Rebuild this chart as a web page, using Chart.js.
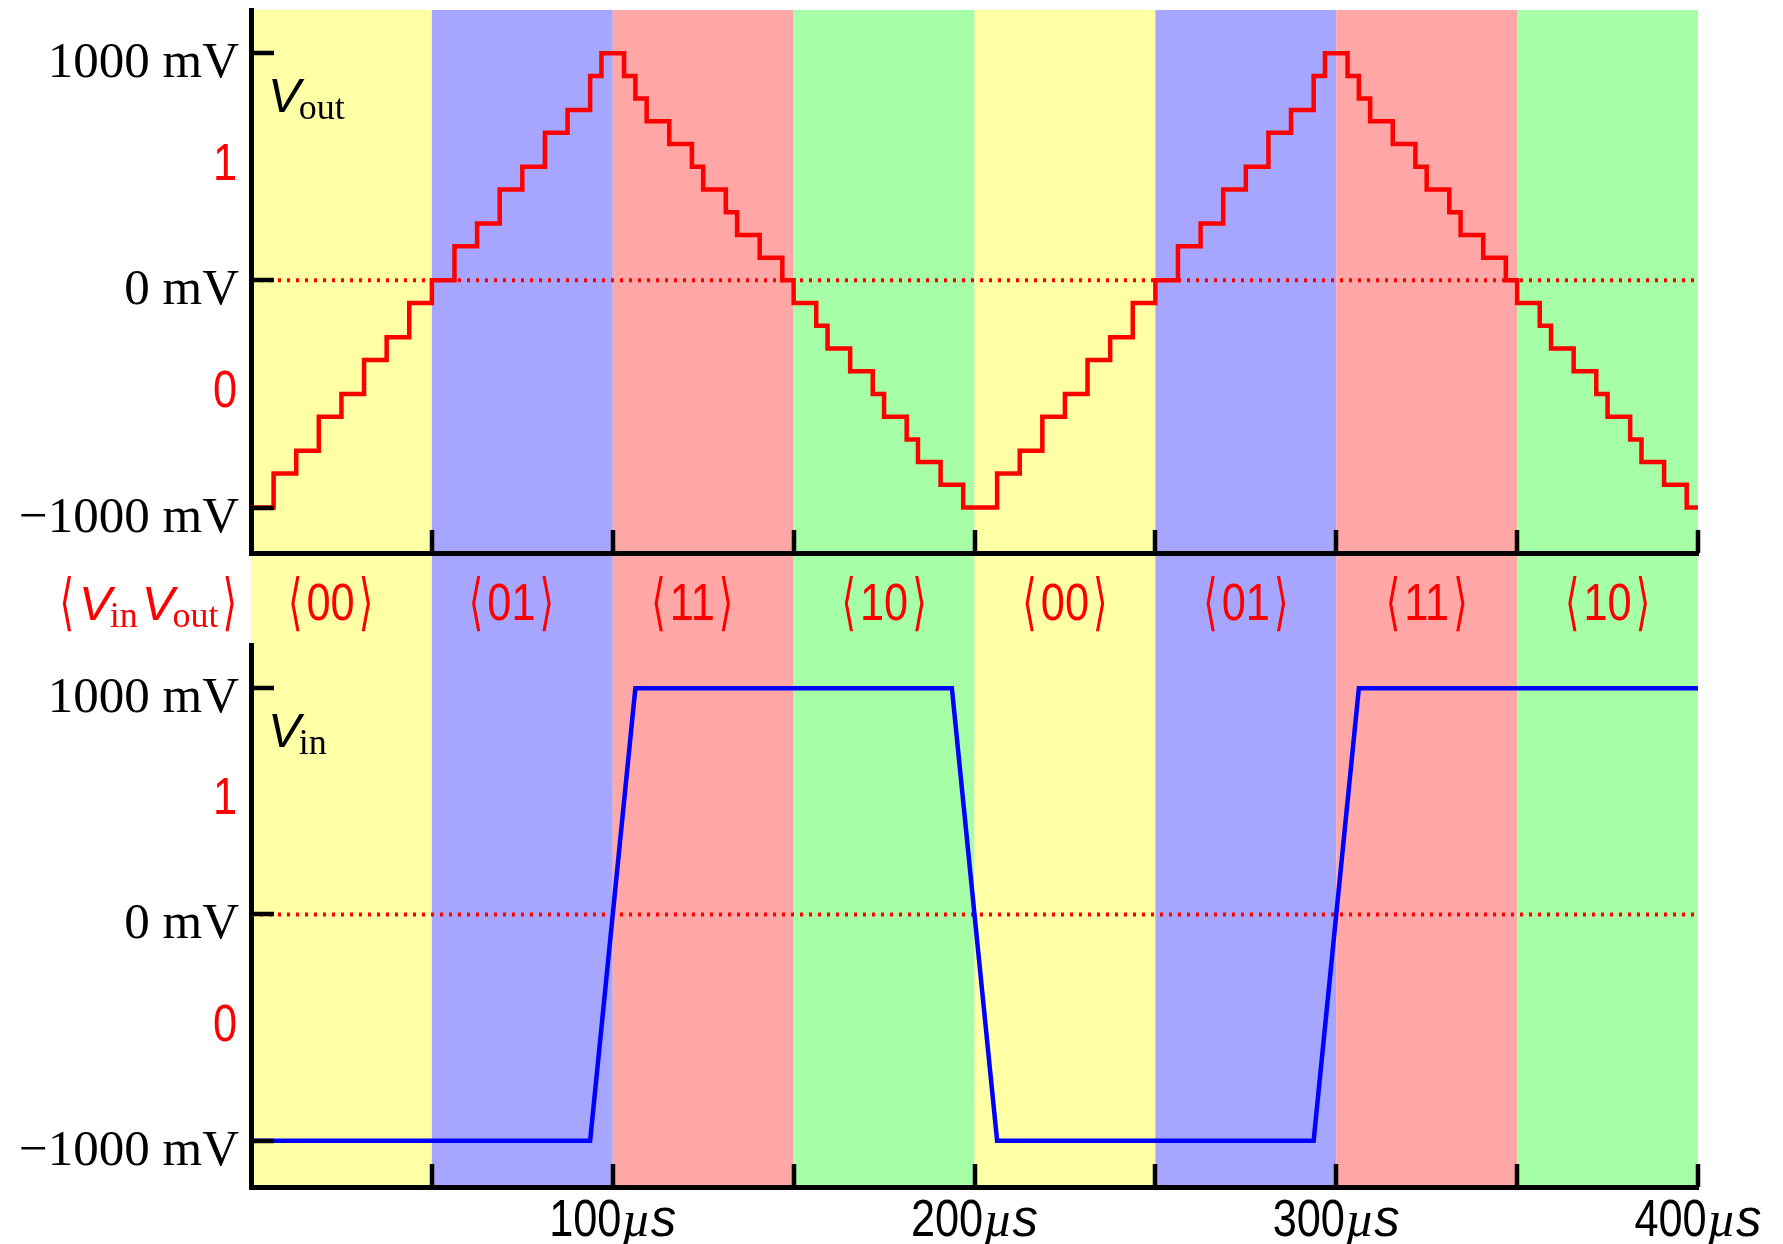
<!DOCTYPE html>
<html>
<head>
<meta charset="utf-8">
<script src="https://cdn.jsdelivr.net/npm/chart.js@4.4.1/dist/chart.umd.min.js"></script>
<style>
  html, body { margin: 0; padding: 0; background: #fff; }
  #wrap { position: relative; width: 1783px; height: 1244px; overflow: hidden; }
  canvas { position: absolute; left: 0; }
  #top { top: 0; }
  #bot { top: 643px; }
</style>
</head>
<body>
<div id="wrap">
  <canvas id="top" width="1783" height="643"></canvas>
  <canvas id="bot" width="1783" height="601"></canvas>
</div>
<script>
'use strict';

const voutTime = [0, 6.25, 12.5, 18.75, 25, 31.25, 37.5, 43.75, 50, 56.25, 62.5, 68.75, 75, 81.25, 87.5, 93.75, 96.875,
  103.125, 106.25, 109.375, 115.625, 121.875, 125, 131.25, 134.375, 140.625, 146.875, 150, 156.25, 159.375, 165.625, 171.875, 175, 181.25, 184.375, 190.625, 196.875,
  206.25, 212.5, 218.75, 225, 231.25, 237.5, 243.75, 250, 256.25, 262.5, 268.75, 275, 281.25, 287.5, 293.75, 296.875,
  303.125, 306.25, 309.375, 315.625, 321.875, 325, 331.25, 334.375, 340.625, 346.875, 350, 356.25, 359.375, 365.625, 371.875, 375, 381.25, 384.375, 390.625, 396.875, 400];
const voutLevel = [-1000, -850, -750, -600, -500, -350, -250, -100, 0, 150, 250, 400, 500, 650, 750, 900, 1000,
  900, 800, 700, 600, 500, 400, 300, 200, 100, 0, -100, -200, -300, -400, -500, -600, -700, -800, -900, -1000,
  -850, -750, -600, -500, -350, -250, -100, 0, 150, 250, 400, 500, 650, 750, 900, 1000,
  900, 800, 700, 600, 500, 400, 300, 200, 100, 0, -100, -200, -300, -400, -500, -600, -700, -800, -900, -1000, -1000];

const vinTime = [0, 93.75, 106.25, 193.75, 206.25, 293.75, 306.25, 400];
const vinLevel = [-1000, -1000, 1000, 1000, -1000, -1000, 1000, 1000];

const zeroTime = [0, 400];
const zeroLevel = [0, 0];

const bandEdges = [0, 50, 100, 150, 200, 250, 300, 350, 400];
const bandColors = ['#ffffa6', '#a6a6ff', '#ffa6a6', '#a6ffa6', '#ffffa6', '#a6a6ff', '#ffa6a6', '#a6ffa6'];
const stateLabels = ['00', '01', '11', '10', '00', '01', '11', '10'];
const stateLabelTime = [22, 72, 122, 175, 225, 275, 325, 375];

const yTickValues = [-1000, -500, 0, 500, 1000];
const yTickLabels = ['−1000 mV', '0', '0 mV', '1', '1000 mV'];
const yTickRed = [false, true, false, true, false];
const xTickValues = [50, 100, 150, 200, 250, 300, 350, 400];
const xTickLabels = ['', '100', '', '200', '', '300', '', '400'];

const F_SERIF = '51px "Liberation Serif", "DejaVu Serif", serif';
const F_DIGIT = '51px "Liberation Sans", "DejaVu Sans", sans-serif';
const F_VITAL = 'italic 49px "Liberation Sans", "DejaVu Sans", sans-serif';
const F_SUB = '36px "Liberation Serif", "DejaVu Serif", serif';
const F_BRACKET = '62px "DejaVu Sans", sans-serif';
const F_MU = 'italic 51px "Liberation Serif", "DejaVu Serif", serif';
const F_S = 'italic 51px "Liberation Sans", "DejaVu Sans", sans-serif';
const RED = '#ff0000';

const pts = (t, v) => t.map((x, i) => ({ x: x, y: v[i] }));

// tekst in stukjes met eigen lettertype / verschuiving
function drawParts(ctx, parts, x, y, align, color) {
  ctx.save();
  ctx.fillStyle = color;
  ctx.textBaseline = 'alphabetic';
  ctx.textAlign = 'left';
  const widths = parts.map(p => { ctx.font = p.font; return ctx.measureText(p.text).width * (p.sx || 1) + (p.gap || 0); });
  const total = widths.reduce((s, w) => s + w, 0);
  let cx = align === 'right' ? x - total : align === 'center' ? x - total / 2 : x;
  parts.forEach((p, i) => {
    ctx.font = p.font;
    ctx.save();
    ctx.translate(cx, y + (p.dy || 0));
    ctx.scale(p.sx || 1, 1);
    ctx.fillText(p.text, 0, 0);
    ctx.restore();
    cx += widths[i];
  });
  ctx.restore();
}

const bracket = (t, gap) => ({ text: t, font: F_BRACKET, sx: 0.6, dy: 3, gap: gap || 0 });

const scope = {
  id: 'scope',
  beforeDraw(chart, args, o) {
    const { ctx, chartArea: a, scales: { x } } = chart;
    const bottom = o.bandsToEdge ? chart.height : a.bottom;
    ctx.save();
    for (let i = 0; i < bandColors.length; i++) {
      const l = x.getPixelForValue(bandEdges[i]), r = x.getPixelForValue(bandEdges[i + 1]);
      ctx.fillStyle = bandColors[i];
      ctx.fillRect(l, a.top, r - l, bottom - a.top);
    }
    ctx.restore();
  },
  afterDatasetsDraw(chart, args, o) {
    const { ctx, chartArea: a, scales: { x, y } } = chart;
    ctx.save();
    ctx.strokeStyle = '#000';
    ctx.lineWidth = 4.5;
    ctx.beginPath();
    yTickValues.forEach((v, i) => {
      if (yTickRed[i]) return;
      const py = Math.round(y.getPixelForValue(v));
      ctx.moveTo(a.left, py); ctx.lineTo(a.left + 23, py);
    });
    xTickValues.forEach(t => {
      const px = Math.round(x.getPixelForValue(t));
      ctx.moveTo(px, a.bottom); ctx.lineTo(px, a.bottom - 23);
    });
    ctx.stroke();
    ctx.restore();

    yTickValues.forEach((v, i) => {
      const py = y.getPixelForValue(v);
      if (yTickRed[i]) drawParts(ctx, [{ text: yTickLabels[i], font: F_DIGIT, sx: 0.85 }], 237, py + 13, 'right', RED);
      else drawParts(ctx, [{ text: yTickLabels[i], font: F_SERIF }], 239, py + 24, 'right', '#000');
    });

    const top1000 = y.getPixelForValue(1000);
    drawParts(ctx, [{ text: 'V', font: F_VITAL, gap: -2 }, { text: o.sub, font: F_SUB, dy: 7 }], 268, top1000 + 59, 'left', '#000');

    if (o.states) {
      const by = a.bottom + 67;
      stateLabels.forEach((s, i) => {
        drawParts(ctx, [
          bracket('⟨', 4),
          { text: s, font: F_DIGIT, sx: 0.85, gap: 4 },
          bracket('⟩')
        ], x.getPixelForValue(stateLabelTime[i]), by, 'center', RED);
      });
      drawParts(ctx, [
        bracket('⟨', 5),
        { text: 'V', font: F_VITAL, gap: -2 }, { text: 'in', font: F_SUB, dy: 7, gap: 4 },
        { text: 'V', font: F_VITAL, gap: -2 }, { text: 'out', font: F_SUB, dy: 7, gap: 4 },
        bracket('⟩')
      ], 237, by, 'right', RED);
    }

    if (o.xLabels) {
      xTickValues.forEach((t, i) => {
        if (!xTickLabels[i]) return;
        drawParts(ctx, [
          { text: xTickLabels[i], font: F_DIGIT, sx: 0.85 },
          { text: 'µ', font: F_MU }, { text: 's', font: F_S }
        ], x.getPixelForValue(t), a.bottom + 49, 'center', '#000');
      });
    }
  }
};

function makeChart(canvas, cfg) {
  return new Chart(canvas, {
    type: 'line',
    data: {
      datasets: [
        { data: pts(cfg.time, cfg.level), borderColor: cfg.color, borderWidth: 4.5, stepped: cfg.stepped,
          pointRadius: 0, tension: 0, order: 1 },
        { data: pts(zeroTime, zeroLevel), borderColor: RED, borderWidth: 4, borderDash: [3, 6],
          pointRadius: 0, order: 2 }
      ]
    },
    options: {
      responsive: false,
      animation: false,
      devicePixelRatio: 1,
      layout: { padding: { left: 0, right: 85, top: cfg.padTop, bottom: 0 } },
      plugins: {
        legend: { display: false },
        tooltip: { enabled: false },
        scope: cfg.scope
      },
      scales: {
        x: {
          type: 'linear', min: 0, max: 400,
          ticks: { display: false }, grid: { display: false },
          border: { color: '#000', width: 5 },
          afterFit: s => { s.height = cfg.xHeight; }
        },
        y: {
          min: cfg.min, max: cfg.max,
          ticks: { display: false }, grid: { display: false },
          border: { color: '#000', width: 5 },
          afterFit: s => { s.width = 251; }
        }
      }
    },
    plugins: [scope]
  });
}

makeChart(document.getElementById('top'), {
  time: voutTime, level: voutLevel, color: RED, stepped: true,
  padTop: 10, xHeight: 90, min: -1200, max: 1190,
  scope: { bandsToEdge: true, states: true, sub: 'out' }
});

makeChart(document.getElementById('bot'), {
  time: vinTime, level: vinLevel, color: '#0000ff', stepped: false,
  padTop: 0, xHeight: 57, min: -1205, max: 1200,
  scope: { bandsToEdge: false, xLabels: true, sub: 'in' }
});
</script>
</body>
</html>
